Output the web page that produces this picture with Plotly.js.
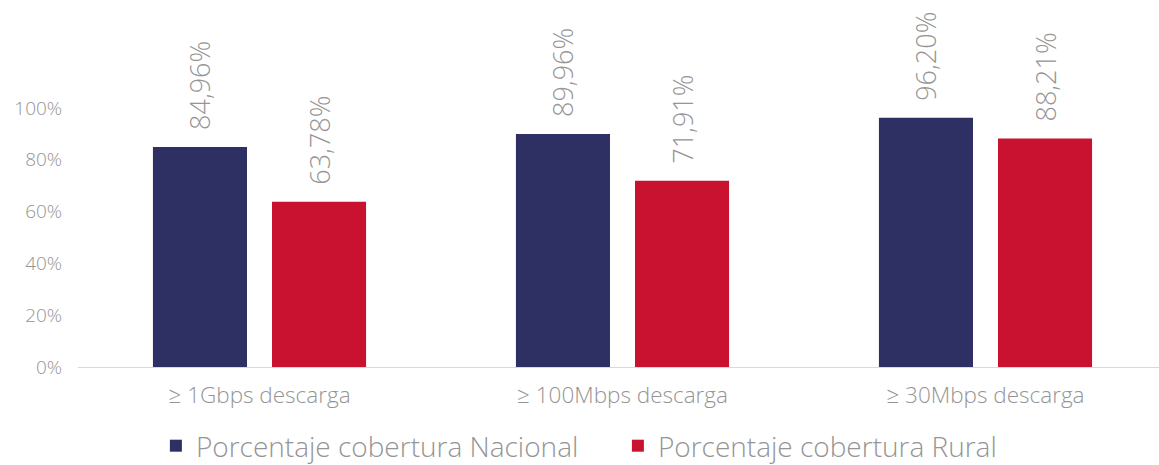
<!DOCTYPE html>
<html>
<head>
<meta charset="utf-8">
<script src="https://cdn.plot.ly/plotly-3.0.1.min.js"></script>
<style>html,body{margin:0;padding:0;background:#fff;}#chart{width:1159px;height:465px;}</style>
</head>
<body>
<div id="chart"></div>
<script>
const categories = ["≥ 1Gbps descarga", "≥ 100Mbps descarga", "≥ 30Mbps descarga"];
const nacional = [84.96, 89.96, 96.20];
const rural = [63.78, 71.91, 88.21];
const seriesNames = ["Porcentaje cobertura Nacional", "Porcentaje cobertura Rural"];
const yTicks = [0, 20, 40, 60, 80, 100];
const yTickText = yTicks.map(v => v + "%");

const FONT = "'Open Sans', Lato, sans-serif";
const GRAY = "#959595";
const labelFont = {family: FONT, size: 27, color: GRAY, weight: 300};
const pad = "\u00a0\u00a0";

const traces = [
  {type: "bar", x: categories, y: nacional, name: seriesNames[0],
   marker: {color: "#2e2f63"},
   texttemplate: pad + "%{y:.2f}%", textposition: "outside", textangle: -90,
   constraintext: "none", cliponaxis: false, textfont: labelFont, hoverinfo: "none"},
  {type: "bar", x: categories, y: rural, name: seriesNames[1],
   marker: {color: "#c8122f"},
   texttemplate: pad + "%{y:.2f}%", textposition: "outside", textangle: -90,
   constraintext: "none", cliponaxis: false, textfont: labelFont, hoverinfo: "none"}
];

const layout = {
  width: 1159, height: 465,
  margin: {l: 78, r: 0, t: 108, b: 98, autoexpand: false},
  paper_bgcolor: "#fff", plot_bgcolor: "#fff",
  separators: ",.",
  barmode: "group", bargap: 0.344, bargroupgap: 0.21,
  font: {family: FONT, color: GRAY, weight: 300},
  xaxis: {
    range: [-0.5, 2.478], fixedrange: true,
    showline: true, linecolor: "#d9d9d9", linewidth: 1,
    ticks: "outside", ticklen: 8, tickcolor: "rgba(0,0,0,0)",
    tickfont: {family: FONT, size: 22.5, color: GRAY, weight: 300}, showgrid: false
  },
  yaxis: {
    range: [0, 100], tickmode: "array", tickvals: yTicks, ticktext: yTickText,
    showgrid: false, zeroline: false, showline: false,
    ticks: "outside", ticklen: 11, tickcolor: "rgba(0,0,0,0)",
    tickfont: {family: FONT, size: 19, color: GRAY, weight: 300}
  },
  showlegend: true,
  legend: {orientation: "h", xref: "container", yref: "paper", x: 0.1345, xanchor: "left",
           y: -0.305, yanchor: "middle", entrywidth: 417,
           font: {family: FONT, size: 28, color: GRAY, weight: 300}, traceorder: "normal"}
};

Plotly.newPlot("chart", traces, layout, {displayModeBar: false, staticPlot: true});
</script>
</body>
</html>
